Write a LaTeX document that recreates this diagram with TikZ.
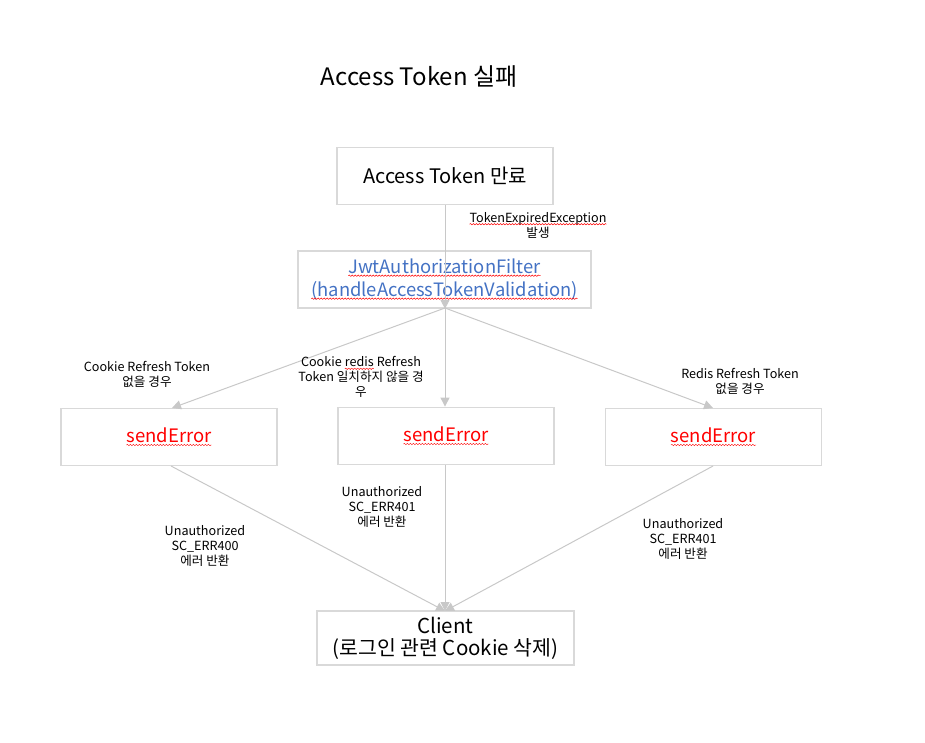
\documentclass[tikz,border=0pt]{standalone}
\usepackage{fontspec}
\setmainfont{Noto Sans CJK KR}
\usetikzlibrary{arrows.meta,decorations.pathmorphing}
\definecolor{boxgray}{HTML}{D9D9D9}
\definecolor{arrgray}{HTML}{C8C8C8}
\definecolor{jwtblue}{HTML}{4472C4}
\newcommand\squig[1]{\tikz[baseline=(w.base)]{\node[inner sep=0pt,outer sep=0pt,draw=none,minimum width=0pt,minimum height=0pt](w){#1};\draw[red,line width=0.45pt,decorate,decoration={snake,amplitude=0.7pt,segment length=3pt}]([yshift=-2.2pt]w.base west)--([yshift=-2.2pt]w.base east);}}
\tikzset{
  box/.style={draw=boxgray,line width=1.8pt,minimum width=216pt,minimum height=57pt,inner sep=0pt,align=center,font=\fontsize{20}{23}\selectfont},
  lbl/.style={inner sep=0pt,align=center,font=\fontsize{12.6}{15}\selectfont},
  arr/.style={draw=arrgray,line width=1pt,-{Triangle[length=9pt,width=9pt,fill=arrgray]}}
}
\begin{document}
\begin{tikzpicture}[x=1pt,y=-1pt]
\useasboundingbox (0,0) rectangle (925,743);
\node[inner sep=0pt,font=\fontsize{24}{28}\selectfont] (title) at (419,77) {Access Token 실패};
\node[box] (exp) at (445,176) {Access Token 만료};
\node[box,minimum width=293pt,minimum height=57pt,text=jwtblue,font=\fontsize{18.4}{23}\selectfont] (jwt) at (444.5,279.5) {\squig{JwtAuthorizationFilter}\\\squig{(handleAccessTokenValidation)}};
\node[box,text=red,font=\fontsize{18.5}{22}\selectfont] (e1) at (169,437) {\squig{sendError}};
\node[box,text=red,font=\fontsize{18.5}{22}\selectfont] (e2) at (446,436) {\squig{sendError}};
\node[box,text=red,font=\fontsize{18.5}{22}\selectfont] (e3) at (713.5,437) {\squig{sendError}};
\node[box,minimum width=257pt,minimum height=54pt,font=\fontsize{20.5}{22}\selectfont] (cl) at (445.5,638) {Client\\(로그인 관련 Cookie 삭제)};
\coordinate (jb) at (445,308);
\coordinate (ct) at (445,611);
\draw[arr] (exp.south -| jb) -- (jwt.south -| jb |- jwt.north);
\draw[arr] (jb) -- (172,408) coordinate (e1t);
\draw[arr] (jb) -- (e2.north -| jb);
\draw[arr] (jb) -- (713,408) coordinate (e3t);
\draw[arr] (171,466) coordinate (e1b) -- (ct);
\draw[arr] (e2.south -| ct) -- (ct);
\draw[arr] (713,466) coordinate (e3b) -- (ct);
\node[lbl] (l0) at (538,225) {\squig{TokenExpiredException}\\발생};
\node[lbl] (l1) at (147,374) {Cookie Refresh Token\\없을 경우};
\node[lbl] (l2) at (361,377) {Cookie \squig{redis} Refresh\\Token 일치하지 않을 경\\우};
\node[lbl] (l3) at (740,381) {Redis Refresh Token\\없을 경우};
\node[lbl] (l4) at (205,546) {Unauthorized\\SC\_ERR400\\에러 반환};
\node[lbl] (l5) at (382,507) {Unauthorized\\SC\_ERR401\\에러 반환};
\node[lbl] (l6) at (683,539) {Unauthorized\\SC\_ERR401\\에러 반환};
\end{tikzpicture}
\end{document}
